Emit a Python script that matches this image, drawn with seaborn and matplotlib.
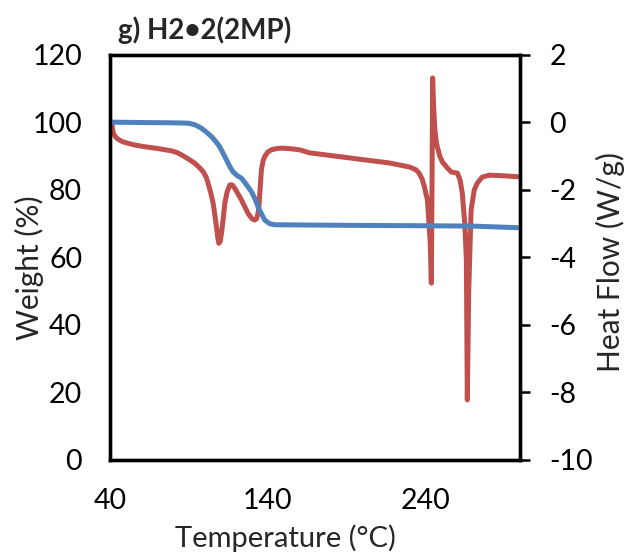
import matplotlib
matplotlib.use("Agg")
import matplotlib.pyplot as plt
import seaborn as sns
import pandas as pd

# TGA weight-loss trace
tga_temp = [40, 41, 58, 80, 89.6, 94, 98, 101, 104.4, 107, 109.6, 112, 113.9, 116, 118,
            120.5, 123.4, 126.5, 129.7, 132, 133.9, 136, 138.1, 141.3, 144.4, 170, 200,
            240, 270, 300]
tga_weight = [100.2, 100.1, 100.0, 99.9, 99.8, 99.3, 98.3, 97.2, 95.8, 94.4, 92.8, 90.6,
              88.9, 86.9, 85.4, 84.3, 83.5, 81.6, 79.5, 77.3, 75.0, 73.0, 71.1, 70.0,
              69.7, 69.6, 69.5, 69.4, 69.3, 68.8]

# DSC heat-flow trace
dsc_temp = [40, 41.1, 42.1, 43.5, 45.3, 48, 51.6, 56, 62.2, 70, 79, 82.5, 85.4, 90, 93.8,
            97, 99.1, 101, 102.2, 104, 105.4, 106.5, 107.5, 108.3, 109, 109.9, 110.7,
            111.8, 112.8, 114.3, 116, 117.5, 119.1, 121, 123.4, 125.5, 127.5, 130, 131.8,
            133, 133.9, 134.5, 135, 136, 137, 138.1, 140, 142.3, 146, 149.5, 155, 160.3,
            166.6, 191.9, 217.2, 230, 234, 236, 238, 239.4, 241.3, 243, 243.8, 244.2,
            244.6, 245.2, 246, 247, 249, 250.8, 254, 256.5, 260.3, 262, 263.4, 265, 266,
            266.6, 267.5, 269, 271, 273, 276, 280.5, 290, 299.5]
dsc_flow = [0.0, -0.02, -0.32, -0.43, -0.50, -0.57, -0.62, -0.67, -0.72, -0.77, -0.84,
            -0.89, -0.96, -1.09, -1.21, -1.35, -1.46, -1.62, -1.80, -2.10, -2.39, -2.75,
            -3.09, -3.40, -3.58, -3.52, -3.28, -2.85, -2.39, -2.05, -1.85, -1.85, -1.95,
            -2.10, -2.30, -2.50, -2.69, -2.85, -2.89, -2.85, -2.69, -2.45, -2.10, -1.41,
            -1.15, -1.01, -0.88, -0.81, -0.77, -0.76, -0.78, -0.81, -0.90, -1.05, -1.20,
            -1.32, -1.40, -1.50, -1.68, -1.91, -2.30, -3.5, -4.76, -2.0, 1.32, 0.5, -0.2,
            -0.61, -0.98, -1.17, -1.35, -1.47, -1.50, -1.70, -2.09, -3.0, -4.07, -8.22,
            -5.0, -2.59, -2.0, -1.79, -1.62, -1.56, -1.58, -1.61]

x_ticks = [40, 140, 240]
weight_ticks = [0, 20, 40, 60, 80, 100, 120]
flow_ticks = [-10, -8, -6, -4, -2, 0, 2]

BLUE = "#4F81BD"
RED = "#C0504D"

sns.set_theme(style="white")
plt.rcParams["font.family"] = ["Lato", "DejaVu Sans"]
plt.rcParams["axes.unicode_minus"] = False

fig = plt.figure(figsize=(6.24, 5.56), dpi=100)
ax = fig.add_axes([0.1763, 0.1727, 0.6570, 0.7284])
ax2 = ax.twinx()

tga = pd.DataFrame({"T": tga_temp, "w": tga_weight})
dsc = pd.DataFrame({"T": dsc_temp, "hf": dsc_flow})

sns.lineplot(data=tga, x="T", y="w", ax=ax, color=BLUE, lw=3.6,
             estimator=None, sort=False, solid_capstyle="round",
             solid_joinstyle="round")
sns.lineplot(data=dsc, x="T", y="hf", ax=ax2, color=RED, lw=3.6,
             estimator=None, sort=False, solid_capstyle="round",
             solid_joinstyle="round")
ax.set_zorder(ax2.get_zorder() + 1)
ax.patch.set_visible(False)

ax.set_xlim(40, 300)
ax.set_ylim(0, 120)
ax2.set_ylim(-10, 2)
ax.set_xticks(x_ticks)
ax.set_yticks(weight_ticks)
ax2.set_yticks(flow_ticks)

fs = 20.5
ax.tick_params(axis="x", length=0, pad=20, labelsize=fs, colors="black")
ax.tick_params(axis="y", length=0, pad=20, labelsize=fs, colors="black")
ax2.tick_params(axis="y", length=7, width=1.8, direction="out", pad=14,
                labelsize=fs, colors="black")

for a in (ax, ax2):
    for s in a.spines.values():
        s.set_visible(True)
        s.set_color("black")
        s.set_linewidth(2.4)

ax.set_xlabel("Temperature (°C)", fontsize=21)
ax.set_ylabel("Weight (%)", fontsize=21.5)
ax2.set_ylabel("Heat Flow (W/g)", fontsize=21.5)
ax.xaxis.set_label_coords(0.429, -0.16)
ax.yaxis.set_label_coords(-0.16, 0.475)
ax2.yaxis.set_label_coords(1.185, 0.49)

fig.text(0.189, 0.945, "g) H2•2(2MP)", fontsize=20, fontweight="bold",
         ha="left", va="center")

fig.savefig("out.png", dpi=100)
